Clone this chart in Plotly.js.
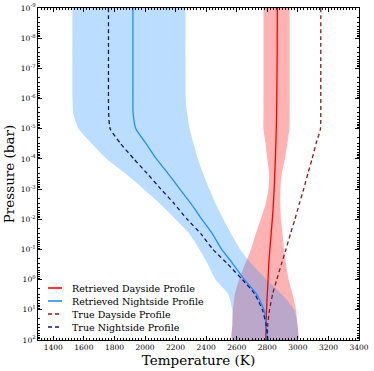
<!DOCTYPE html>
<html>
<head>
<meta charset="utf-8">
<script src="https://cdn.plot.ly/plotly-3.0.1.min.js"></script>
<style>
  html, body { margin: 0; padding: 0; background: #fff; }
  #chart { width: 374px; height: 371px; }
</style>
</head>
<body>
<div id="chart"></div>
<script>
// pressure levels (bar), top of atmosphere first
const pressure = [1e-9, 1e-8, 1e-7, 1e-6, 3e-6, 1e-5, 3e-5, 1e-4, 3e-4, 1e-3, 3e-3, 1e-2, 3e-2, 0.1, 0.3, 1, 3, 10, 30, 100];

// dayside
const dayRetrieved = [2866, 2865, 2864, 2862, 2861, 2859, 2856, 2853, 2849, 2845, 2840, 2833, 2825, 2817, 2810, 2805, 2800, 2795, 2792, 2790];
const dayLow  = [2775, 2775, 2775, 2775, 2775, 2775, 2788, 2800, 2812, 2808, 2790, 2757, 2725, 2693, 2655, 2615, 2588, 2576, 2572, 2570];
const dayHigh = [2946, 2946, 2946, 2946, 2946, 2945, 2932, 2915, 2895, 2886, 2885, 2890, 2900, 2910, 2922, 2940, 2965, 2988, 2997, 3000];
const dayTrue = [3150, 3150, 3150, 3150, 3150, 3148, 3120, 3093, 3066, 3038, 3010, 2981, 2952, 2922, 2893, 2862, 2835, 2815, 2803, 2800];

// nightside
const nightRetrieved = [1921, 1921, 1921, 1921, 1922, 1940, 2005, 2075, 2150, 2228, 2300, 2372, 2440, 2502, 2575, 2650, 2730, 2778, 2793, 2795];
const nightLow  = [1525, 1525, 1525, 1526, 1530, 1565, 1650, 1750, 1870, 1990, 2097, 2200, 2290, 2357, 2410, 2462, 2545, 2570, 2572, 2572];
const nightHigh = [2265, 2265, 2265, 2266, 2275, 2292, 2317, 2346, 2380, 2420, 2462, 2513, 2563, 2623, 2697, 2796, 2895, 2975, 2998, 2998];
const nightTrue = [1761, 1761, 1761, 1761, 1762, 1772, 1838, 1927, 2013, 2104, 2190, 2276, 2365, 2445, 2540, 2637, 2718, 2768, 2792, 2804];

const xTicks = [1400, 1600, 1800, 2000, 2200, 2400, 2600, 2800, 3000, 3200, 3400];
const yTickVals = [1e-9, 1e-8, 1e-7, 1e-6, 1e-5, 1e-4, 1e-3, 1e-2, 1e-1, 1, 10, 100];
const yTickText = ['10<sup>-9</sup>', '10<sup>-8</sup>', '10<sup>-7</sup>', '10<sup>-6</sup>', '10<sup>-5</sup>',
  '10<sup>-4</sup>', '10<sup>-3</sup>', '10<sup>-2</sup>', '10<sup>-1</sup>', '10<sup>0</sup>', '10<sup>1</sup>', '10<sup>2</sup>'];

const legendNames = ['Retrieved Dayside Profile', 'Retrieved Nightside Profile', 'True Dayside Profile', 'True Nightside Profile'];
const legendColors = ['#ff0000', '#1e90ff', '#8b1a1a', '#14147a'];
const legendDash = ['solid', 'solid', 'dash', 'dash'];

const band = (lo, hi, color) => ({
  x: lo.concat(hi.slice().reverse()),
  y: pressure.concat(pressure.slice().reverse()),
  mode: 'lines', fill: 'toself', fillcolor: color,
  line: {width: 0, shape: 'spline', smoothing: 0.5}, hoverinfo: 'skip'
});
const line = (xs, color, dash, w) => ({
  x: xs, y: pressure, mode: 'lines',
  line: {color: color, dash: dash, width: w, shape: 'spline', smoothing: 0.5}
});

const traces = [
  band(dayLow, dayHigh, 'rgba(255,0,0,0.3)'),
  band(nightLow, nightHigh, 'rgba(30,144,255,0.3)'),
  line(dayRetrieved, legendColors[0], 'solid', 1.3),
  line(nightRetrieved, legendColors[1], 'solid', 1.3),
  line(dayTrue, legendColors[2], '4px,3px', 1.3),
  line(nightTrue, legendColors[3], '4px,3px', 1.3)
];

// log minor ticks 2..9 per decade
const yMinor = [];
for (let e = -9; e < 2; e++) for (let m = 2; m <= 9; m++) yMinor.push(m * Math.pow(10, e));

// hand-placed legend, matplotlib style without frame
const L = 38, R = 359, T = 8, B = 340;
const px = v => (v - L) / (R - L);
const py = v => (B - v) / (B - T);
const legendY = [288, 301, 314, 327];
const shapes = legendNames.map((n, i) => ({
  type: 'line', xref: 'paper', yref: 'paper',
  x0: px(48), x1: px(62), y0: py(legendY[i]), y1: py(legendY[i]),
  line: {color: legendColors[i], width: i < 2 ? 1.6 : 1.3, dash: legendDash[i] === 'dash' ? '4px,3px' : 'solid'}
}));
const annotations = legendNames.map((n, i) => ({
  text: n, xref: 'paper', yref: 'paper', x: px(70), y: py(legendY[i]),
  xanchor: 'left', yanchor: 'middle', showarrow: false,
  font: {family: 'DejaVu Serif', size: 9.5, color: '#000'}
}));

const tickFont = {family: 'DejaVu Serif', size: 7.5, color: '#000'};
const titleFont = {family: 'DejaVu Serif', size: 13.5, color: '#000'};
const layout = {
  width: 374, height: 371,
  margin: {l: L, r: 374 - R, t: T, b: 371 - B},
  paper_bgcolor: '#fff', plot_bgcolor: '#fff',
  showlegend: false,
  xaxis: {
    range: [1300, 3400], tickvals: xTicks, ticks: 'inside', ticklen: 4, tickcolor: '#000',
    showline: true, linecolor: '#000', linewidth: 1, mirror: 'ticks', showgrid: false, zeroline: false,
    minor: {dtick: 20, ticks: 'inside', ticklen: 2, tickcolor: '#000', showgrid: false},
    tickfont: tickFont,
    title: {text: 'Temperature (K)', font: titleFont, standoff: 2}
  },
  yaxis: {
    type: 'log', range: [2, -9], tickvals: yTickVals, ticktext: yTickText,
    ticks: 'inside', ticklen: 4, tickcolor: '#000',
    showline: true, linecolor: '#000', linewidth: 1, mirror: 'ticks', showgrid: false, zeroline: false,
    minor: {tickmode: 'array', tickvals: yMinor, ticks: 'inside', ticklen: 2, tickcolor: '#000', showgrid: false},
    tickfont: tickFont,
    title: {text: 'Pressure (bar)', font: titleFont, standoff: 3}
  },
  shapes: shapes,
  annotations: annotations
};

Plotly.newPlot('chart', traces, layout, {staticPlot: true});
</script>
</body>
</html>
